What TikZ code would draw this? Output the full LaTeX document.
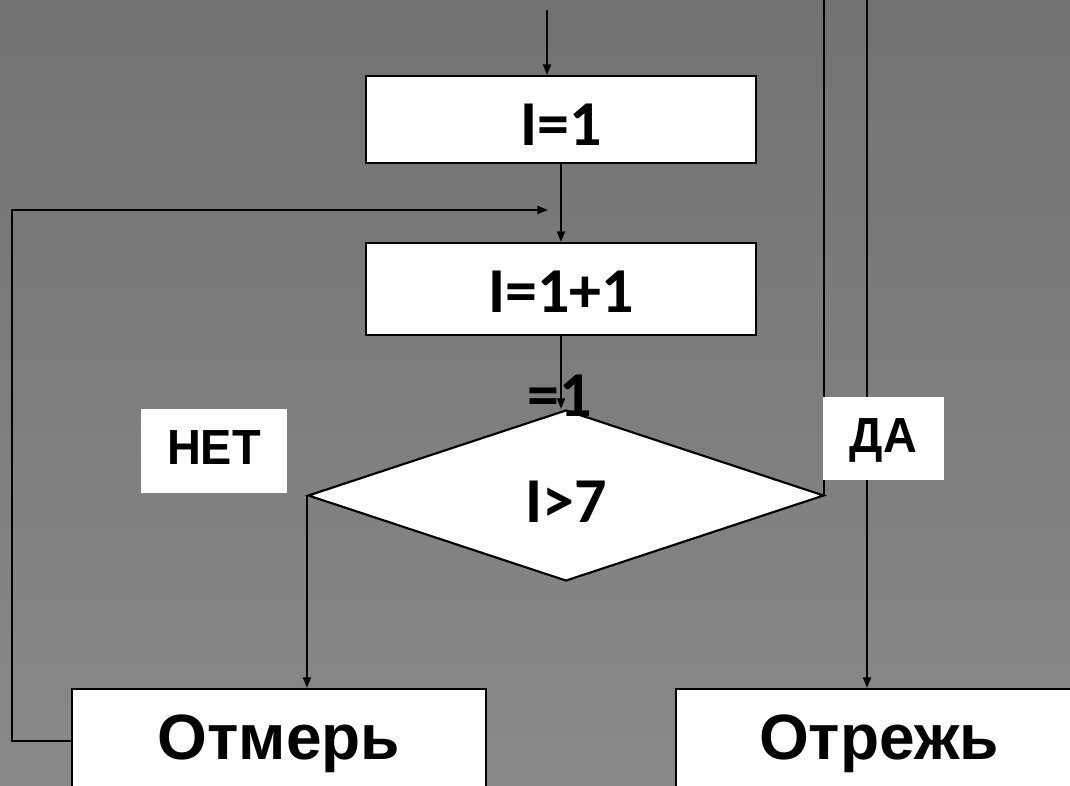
\documentclass[tikz,border=0pt]{standalone}
\usepackage{fontspec}
\setmainfont{Liberation Sans}
\newfontfamily\carl{Carlito}
\usetikzlibrary{arrows.meta,shapes.geometric}

\definecolor{bgtop}{HTML}{727272}
\definecolor{bgbot}{HTML}{898989}

\begin{document}
\begin{tikzpicture}[x=0.75pt,y=-0.75pt,
    line width=1.5pt,>={Triangle[length=8pt,width=6pt]},
    box/.style={draw,fill=white,line width=1.6pt,inner sep=0pt},
    tag/.style={fill=white,inner sep=0pt,text height=26.5pt,
      font=\bfseries\fontsize{37}{40}\selectfont},
    calc/.style={font=\carl\bfseries\fontsize{48}{52}\selectfont,text depth=0pt},
    act/.style={box,font=\bfseries\fontsize{48}{52}\selectfont,
      text height=34.4pt,text depth=6pt,minimum height=78pt}]

    \clip (0,0) rectangle (1070,785);
    \shade[top color=bgtop,bottom color=bgbot] (0,0) rectangle (1070,785);

    \node[box,calc,text height=38.5pt,minimum width=292.5pt,minimum height=65.25pt] (i1) at (561,119.5) {I=1};
    \node[box,calc,text height=35.5pt,minimum width=292.5pt,minimum height=69pt] (i2) at (561,289) {I=1+1};
    \node[box,calc,text height=40.1pt,diamond,minimum width=387pt,minimum height=128.25pt] (cond) at (566,495.5) {I>7};
    \node[act,minimum width=310.5pt] (otm) at (279,741) {Отмерь};
    \node[act,minimum width=304.5pt] (otr) at (879,741) {Отрежь};

    \coordinate (in) at (547,10);
    \coordinate (back) at (12,210);
    \coordinate (loopend) at (548,210);
    \coordinate (top1) at (824,0);
    \coordinate (top2) at (867,0);

    \draw[->] (in) -- (in |- i1.north);
    \draw[->] (i1.south) -- (i2.north);
    \draw[->] (i2.south) -- (i2.south |- cond.north);
    \draw[->] (otm.west) -| (back) -- (loopend);
    \draw[->] (cond.west) -- (cond.west |- otm.north);
    \draw (top1) -- (top1 |- cond.east);
    \draw[->] (top2) -- (top2 |- otr.north);

    \node[tag,text depth=6.8pt,minimum width=109.5pt,minimum height=63pt] (net) at (214,451) {\scalebox{0.95}[1]{НЕТ}};
    \node[tag,text depth=6pt,minimum width=90.75pt,minimum height=62.25pt] (da) at (883.5,438.5) {\scalebox{0.95}[1]{ДА}};
    \node[calc,inner sep=0pt,text height=30.3pt] (eq) at (560,396) {=1};
\end{tikzpicture}
\end{document}
